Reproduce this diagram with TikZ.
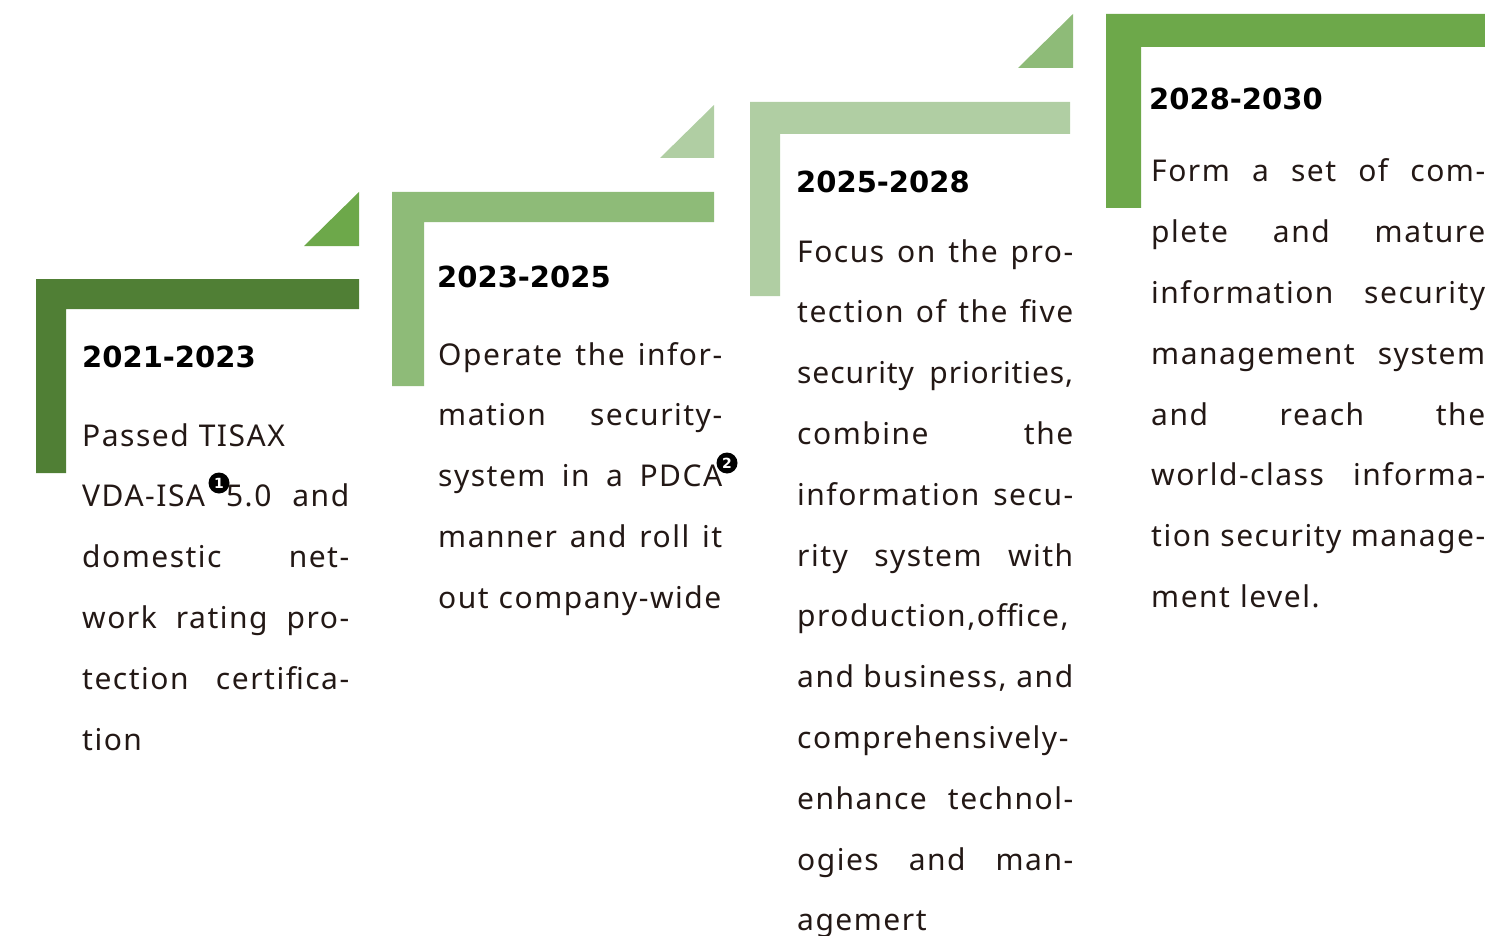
\documentclass[tikz,border=0pt]{standalone}
\usepackage{fontspec}
\setmainfont{Noto Sans}[LetterSpace=5]
\newfontfamily\headfont{DejaVu Sans}
\definecolor{gA}{RGB}{80,127,53}
\definecolor{gB}{RGB}{142,187,120}
\definecolor{gC}{RGB}{176,206,163}
\definecolor{gD}{RGB}{109,168,74}
\definecolor{txt}{RGB}{35,24,21}
\newcommand\jl[1]{\leavevmode\hbox to \linewidth{\spaceskip=0.26em plus 1fil\relax #1}}
\tikzset{
  head/.style={anchor=base west, inner sep=0, font=\headfont\bfseries\fontsize{29}{29}\selectfont, text=black},
  body/.style={anchor=base west, inner sep=0, text width=#1, align=left, font=\fontsize{30}{60.8}\selectfont, text=txt},
  circ/.style={circle, fill=black, text=white, inner sep=0, minimum size=21pt, font=\headfont\bfseries\fontsize{14}{14}\selectfont},
}
\begin{document}
\begin{tikzpicture}[x=1pt,y=-1pt]
\useasboundingbox (0,0) rectangle (1485,936);
% brackets
\fill[gA] (36,279) -- (359,279) -- (359,309) -- (66,309) -- (66,473) -- (36,473) -- cycle;
\fill[gB] (392,192) -- (714,192) -- (714,222) -- (424,222) -- (424,386) -- (392,386) -- cycle;
\fill[gC] (750,102) -- (1070,102) -- (1070,134) -- (780,134) -- (780,296) -- (750,296) -- cycle;
\fill[gD] (1106,14) -- (1485,14) -- (1485,47) -- (1141,47) -- (1141,208) -- (1106,208) -- cycle;
% triangles
\fill[gD] (304,246) -- (359,246) -- (359,192) -- cycle;
\fill[gC] (660,158) -- (714,158) -- (714,105) -- cycle;
\fill[gB] (1018,68) -- (1073,68) -- (1073,14) -- cycle;
% headings
\node[head] (h1) at (82,367) {2021-2023};
\node[head] (h2) at (437,287) {2023-2025};
\node[head] (h3) at (796,193) {2025-2028};
\node[head] (h4) at (1149,110) {2028-2030};
% bodies
\node[body=267pt] (b1) at (82,446) {Passed TISAX\\
\jl{VDA-ISA 5.0 and}\\
\jl{domestic net-}\\
\jl{work rating pro-}\\
\jl{tection certifica-}\\
tion};
\node[body=284pt] (b2) at (438,365) {\jl{Operate the infor-}\\
\jl{mation security-}\\
\jl{system in a PDCA}\\
\jl{manner and roll it}\\
out company-wide};
\node[body=276pt] (b3) at (797,262) {\jl{Focus on the pro-}\\
\jl{tection of the five}\\
\jl{\addfontfeature{LetterSpace=3}security priorities,}\\
\jl{combine the}\\
\jl{information secu-}\\
\jl{rity system with}\\
\jl{production,office,}\\
\jl{and business, and}\\
\jl{comprehensively-}\\
\jl{enhance technol-}\\
\jl{ogies and man-}\\
agemert};
\node[body=334pt] (b4) at (1151,182) {\jl{Form a set of com-}\\
\jl{plete and mature}\\
\jl{information security}\\
\jl{management system}\\
\jl{and reach the}\\
\jl{world-class informa-}\\
\jl{tion security manage-}\\
ment level.};
% note markers
\node[circ] (n1) at (219,483) {1};
\node[circ] (n2) at (727,463) {2};
\end{tikzpicture}
\end{document}
